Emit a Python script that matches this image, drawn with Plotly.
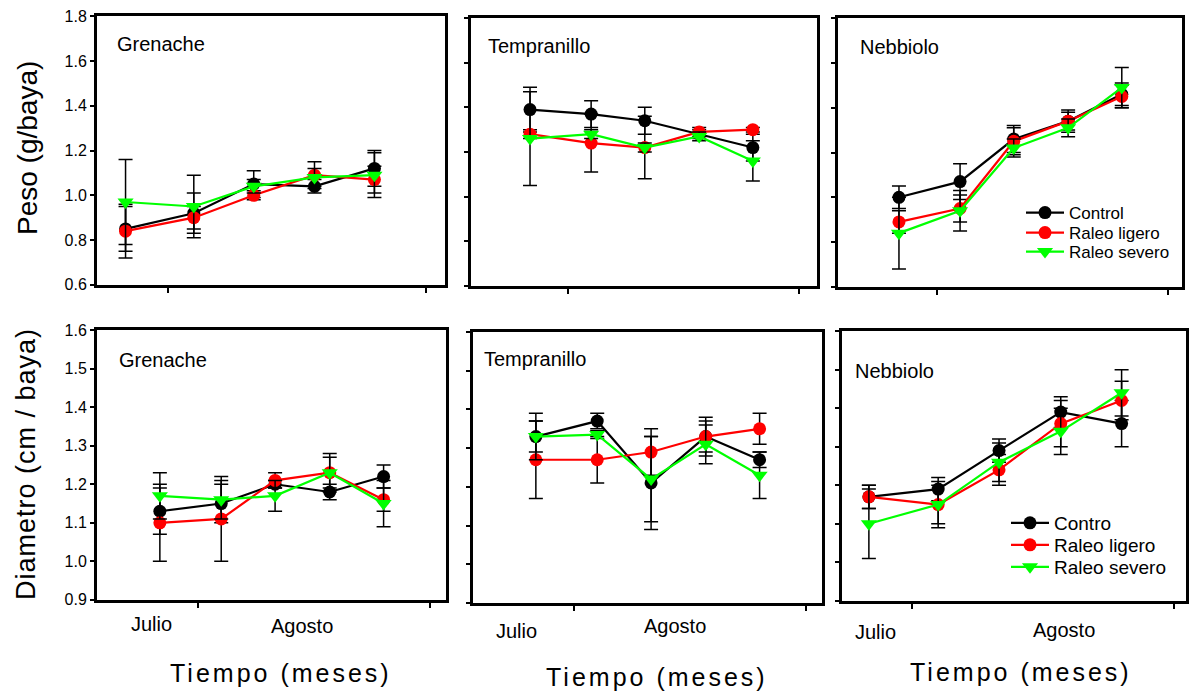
import plotly.graph_objects as go

W, H = 1189, 692

# ---------------- data ----------------
sample_day = [-5.1, 3.1, 10.3, 17.6, 24.8]   # sampling dates, days from 1 August
month_ticks = [0, 31]                         # 1 Aug, 1 Sep
month_labels = ["Julio", "Agosto"]
cultivars = ["Grenache", "Tempranillo", "Nebbiolo"]
series_top = ["Control", "Raleo ligero", "Raleo severo"]
series_bottom = ["Contro", "Raleo ligero", "Raleo severo"]
peso_ticks = [0.6, 0.8, 1.0, 1.2, 1.4, 1.6, 1.8]
diam_ticks = [0.9, 1.0, 1.1, 1.2, 1.3, 1.4, 1.5, 1.6]

# Peso (g/baya)
peso_grenache_control = [0.85, 0.92, 1.05, 1.04, 1.12]
peso_grenache_control_err = [0.10, 0.09, 0.06, 0.03, 0.08]
peso_grenache_ligero = [0.84, 0.90, 1.00, 1.09, 1.07]
peso_grenache_ligero_err = [0.12, 0.05, 0.02, 0.06, 0.06]
peso_grenache_severo = [0.97, 0.95, 1.04, 1.08, 1.09]
peso_grenache_severo_err = [0.19, 0.14, 0.03, 0.04, 0.10]

peso_tempranillo_control = [1.39, 1.37, 1.34, 1.28, 1.22]
peso_tempranillo_control_err = [0.10, 0.06, 0.06, 0.02, 0.06]
peso_tempranillo_ligero = [1.28, 1.24, 1.22, 1.29, 1.30]
peso_tempranillo_ligero_err = [0.02, 0.13, 0.14, 0.02, 0.01]
peso_tempranillo_severo = [1.26, 1.28, 1.22, 1.27, 1.16]
peso_tempranillo_severo_err = [0.21, 0.02, 0.02, 0.02, 0.09]

peso_nebbiolo_control = [1.00, 1.07, 1.26, 1.34, 1.46]
peso_nebbiolo_control_err = [0.05, 0.08, 0.06, 0.04, 0.05]
peso_nebbiolo_ligero = [0.89, 0.95, 1.25, 1.34, 1.45]
peso_nebbiolo_ligero_err = [0.05, 0.06, 0.06, 0.05, 0.05]
peso_nebbiolo_severo = [0.84, 0.94, 1.22, 1.31, 1.49]
peso_nebbiolo_severo_err = [0.16, 0.09, 0.04, 0.04, 0.09]

# Diametro (cm / baya)
diam_grenache_control = [1.13, 1.15, 1.20, 1.18, 1.22]
diam_grenache_control_err = [0.06, 0.05, 0.01, 0.02, 0.03]
diam_grenache_ligero = [1.10, 1.11, 1.21, 1.23, 1.16]
diam_grenache_ligero_err = [0.10, 0.11, 0.02, 0.04, 0.03]
diam_grenache_severo = [1.17, 1.16, 1.17, 1.23, 1.15]
diam_grenache_severo_err = [0.06, 0.05, 0.04, 0.05, 0.06]

diam_tempranillo_control = [1.33, 1.37, 1.21, 1.33, 1.27]
diam_tempranillo_control_err = [0.04, 0.02, 0.12, 0.05, 0.02]
diam_tempranillo_ligero = [1.27, 1.27, 1.29, 1.33, 1.35]
diam_tempranillo_ligero_err = [0.10, 0.06, 0.06, 0.04, 0.04]
diam_tempranillo_severo = [1.33, 1.335, 1.22, 1.31, 1.23]
diam_tempranillo_severo_err = [0.06, 0.01, 0.11, 0.05, 0.06]

diam_nebbiolo_control = [1.17, 1.19, 1.29, 1.39, 1.36]
diam_nebbiolo_control_err = [0.03, 0.03, 0.03, 0.04, 0.06]
diam_nebbiolo_ligero = [1.17, 1.15, 1.24, 1.36, 1.42]
diam_nebbiolo_ligero_err = [0.03, 0.05, 0.04, 0.06, 0.05]
diam_nebbiolo_severo = [1.10, 1.15, 1.26, 1.34, 1.44]
diam_nebbiolo_severo_err = [0.09, 0.06, 0.05, 0.06, 0.06]

# ---------------- styling ----------------
FONT = "Arial, 'Liberation Sans', sans-serif"
COLORS = ["#000000", "#ff0000", "#00ff00"]
SYMBOLS = ["circle", "circle", "triangle-down"]
MSIZE = [13, 13, 14]


def fx(p):
    return p / W


def fy(p):
    return 1 - p / H


# panel geometry in pixels: (left, right, top, bottom), x range
panels = [
    dict(box=(97, 445, 16, 285), xr=(-8.53, 33.28), top=True),
    dict(box=(471, 817, 18, 286), xr=(-13.02, 33.41), top=True),
    dict(box=(838, 1182, 18, 287), xr=(-13.28, 32.88), top=True),
    dict(box=(97, 446, 330, 600), xr=(-13.50, 33.14), top=False),
    dict(box=(473, 822, 332, 603), xr=(-13.50, 33.14), top=False),
    dict(box=(842, 1186, 331, 601), xr=(-8.28, 32.42), top=False),
]

panel_series = [
    [(peso_grenache_control, peso_grenache_control_err),
     (peso_grenache_ligero, peso_grenache_ligero_err),
     (peso_grenache_severo, peso_grenache_severo_err)],
    [(peso_tempranillo_control, peso_tempranillo_control_err),
     (peso_tempranillo_ligero, peso_tempranillo_ligero_err),
     (peso_tempranillo_severo, peso_tempranillo_severo_err)],
    [(peso_nebbiolo_control, peso_nebbiolo_control_err),
     (peso_nebbiolo_ligero, peso_nebbiolo_ligero_err),
     (peso_nebbiolo_severo, peso_nebbiolo_severo_err)],
    [(diam_grenache_control, diam_grenache_control_err),
     (diam_grenache_ligero, diam_grenache_ligero_err),
     (diam_grenache_severo, diam_grenache_severo_err)],
    [(diam_tempranillo_control, diam_tempranillo_control_err),
     (diam_tempranillo_ligero, diam_tempranillo_ligero_err),
     (diam_tempranillo_severo, diam_tempranillo_severo_err)],
    [(diam_nebbiolo_control, diam_nebbiolo_control_err),
     (diam_nebbiolo_ligero, diam_nebbiolo_ligero_err),
     (diam_nebbiolo_severo, diam_nebbiolo_severo_err)],
]

fig = go.Figure()
layout = dict(
    width=W, height=H,
    margin=dict(l=0, r=0, t=0, b=0, autoexpand=False),
    paper_bgcolor="white", plot_bgcolor="white",
    font=dict(family=FONT, color="black"),
    showlegend=True,
)

# legend rows (one legend per row for exact placement)
legend_rows = {
    2: [(1021, 213), (1021, 233), (1021, 252)],
    5: [(1006, 523), (1006, 545), (1006, 567)],
}
legend_font = {2: 17, 5: 19}
legend_counter = 0

for i, p in enumerate(panels):
    k = "" if i == 0 else str(i + 1)
    l, r, t, b = p["box"]
    common = dict(showline=True, linecolor="black", linewidth=3, mirror=True,
                  ticks="outside", tickcolor="black", tickwidth=1.5,
                  showgrid=False, zeroline=False, fixedrange=True,
                  automargin=False)
    layout["xaxis" + k] = dict(
        common, domain=[fx(l), fx(r)], range=list(p["xr"]),
        anchor="y" + k, tickmode="array", tickvals=month_ticks,
        showticklabels=False, ticklen=5)
    if p["top"]:
        yr = [0.5995, 1.8005]
        yt = peso_ticks
    else:
        yr = [0.8997, 1.6003]
        yt = diam_ticks
    layout["yaxis" + k] = dict(
        common, domain=[fy(b), fy(t)], range=yr, anchor="x" + k,
        tickmode="array", tickvals=yt, tickformat=".1f", ticklen=4,
        showticklabels=(i % 3 == 0),
        tickfont=dict(family=FONT, size=16, color="black"))

    names = series_top if p["top"] else series_bottom
    for j, (vals, err) in enumerate(panel_series[i]):
        tr = dict(
            x=sample_day, y=vals, mode="lines+markers", name=names[j],
            xaxis="x" + k, yaxis="y" + k,
            line=dict(color=COLORS[j], width=2.2),
            marker=dict(color=COLORS[j], size=MSIZE[j], symbol=SYMBOLS[j],
                        line=dict(width=0)),
            error_y=dict(type="data", array=err, symmetric=True,
                         color="black", thickness=1.5, width=7),
            showlegend=False,
        )
        if i in legend_rows:
            legend_counter += 1
            lk = "legend" if legend_counter == 1 else "legend%d" % legend_counter
            lx, ly = legend_rows[i][j]
            layout[lk] = dict(
                x=fx(lx), y=fy(ly), xanchor="left", yanchor="middle",
                bgcolor="rgba(0,0,0,0)", borderwidth=0,
                font=dict(family=FONT, size=legend_font[i], color="black"),
                itemwidth=38, tracegroupgap=0)
            tr["showlegend"] = True
            tr["legend"] = lk
        fig.add_trace(go.Scatter(**tr))

annotations = []
# cultivar labels
cult_pos = [(115, 44), (486, 46), (858, 47), (117, 360), (482, 359), (853, 371)]
for i, (x, y) in enumerate(cult_pos):
    annotations.append(dict(text=cultivars[i % 3], x=fx(x), y=fy(y),
                            xref="paper", yref="paper", xanchor="left",
                            yanchor="middle", showarrow=False,
                            font=dict(family=FONT, size=20, color="black")))
# month labels
month_pos = [[(151, 624), (302, 626)], [(516, 631), (675, 626)], [(875, 632), (1064, 630)]]
for pos in month_pos:
    for m, (x, y) in enumerate(pos):
        annotations.append(dict(text=month_labels[m], x=fx(x), y=fy(y),
                                xref="paper", yref="paper", xanchor="center",
                                yanchor="middle", showarrow=False,
                                font=dict(family=FONT, size=20, color="black")))
# x titles
for x, y in [(281, 673), (657, 677), (1021, 672)]:
    annotations.append(dict(
        text="<span style='letter-spacing:3px'>Tiempo (meses)</span>",
        x=fx(x), y=fy(y), xref="paper", yref="paper", xanchor="center",
        yanchor="middle", showarrow=False,
        font=dict(family=FONT, size=25, color="black")))
# y titles
annotations.append(dict(text="Peso (g/baya)", x=fx(28), y=fy(148),
                        xref="paper", yref="paper", textangle=-90,
                        xanchor="center", yanchor="middle", showarrow=False,
                        font=dict(family=FONT, size=28, color="black")))
annotations.append(dict(
    text="<span style='letter-spacing:1px'>Diametro (cm / baya)</span>",
    x=fx(26), y=fy(464), xref="paper", yref="paper", textangle=-90,
    xanchor="center", yanchor="middle", showarrow=False,
    font=dict(family=FONT, size=27, color="black")))

layout["annotations"] = annotations
fig.update_layout(**layout)
fig.write_html(
    "out.html",
    config={"displayModeBar": False},
    post_script="document.body.style.margin='0';document.body.style.padding='0';"
                "document.body.style.overflow='hidden';",
)
